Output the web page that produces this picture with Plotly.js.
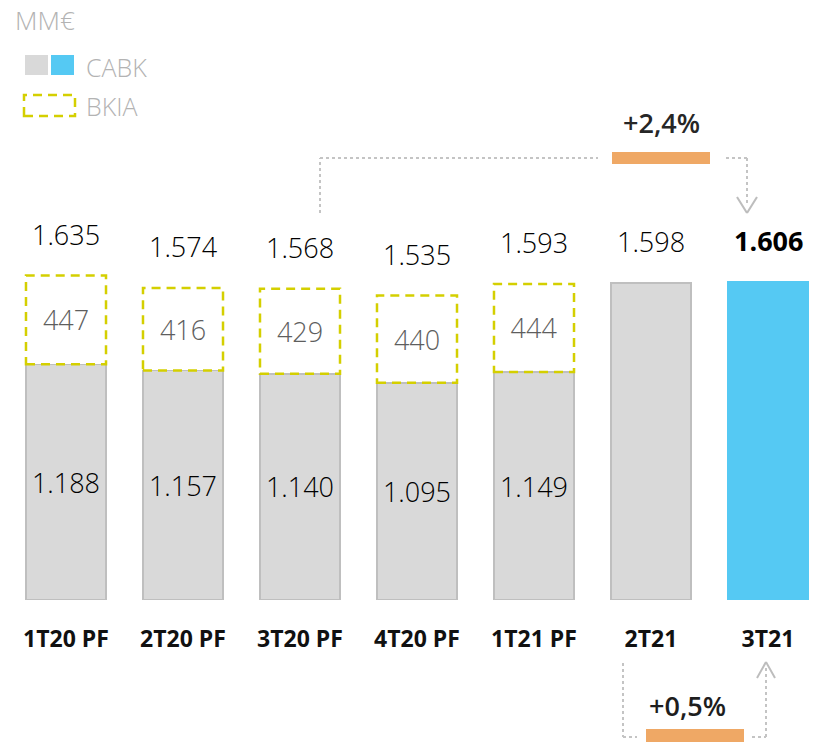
<!DOCTYPE html>
<html>
<head>
<meta charset="utf-8">
<script src="https://cdn.plot.ly/plotly-3.0.1.min.js"></script>
<style>html,body{margin:0;padding:0;background:#fff;}#chart{width:821px;height:751px;}</style>
</head>
<body>
<div id="chart"></div>
<script>
const categories = ['1T20 PF', '2T20 PF', '3T20 PF', '4T20 PF', '1T21 PF', '2T21', '3T21'];
const cabk = [1188, 1157, 1140, 1095, 1149, 1598, 1606];
const bkia = [447, 416, 429, 440, 444, null, null];
const totals = [1635, 1574, 1568, 1535, 1593, 1598, 1606];
const cabkLabelShown = [true, true, true, true, true, false, false];
const changeQoQ = '+0,5%';
const changeYoY = '+2,4%';
const unitLabel = 'MM€';

const W = 821, H = 751, BASE = 600;
const FONT = '"Open Sans", "Noto Sans", sans-serif';
const GRAY = '#d9d9d9', GRAY_LINE = '#bfbfbf', BLUE = '#55c9f3', DASH = '#d4cf00', ORANGE = '#efa865', DOT = '#c4c4c4';
const BW = 0.684;

function fmt(v) { return String(v).replace(/\B(?=(\d{3})+(?!\d))/g, '.'); }
const px = x => x / W;
const py = y => (BASE - y) / BASE;

const idx = categories.map((_, i) => i);
const cabkColors = categories.map((_, i) => i === categories.length - 1 ? BLUE : GRAY);
const cabkLineColors = categories.map((_, i) => i === categories.length - 1 ? BLUE : GRAY_LINE);

const traces = [
  {
    type: 'bar', name: 'CABK', x: idx, y: cabk, width: BW,
    marker: { color: cabkColors, line: { color: cabkLineColors, width: 1.5 } },
    text: cabk.map((v, i) => cabkLabelShown[i] ? fmt(v) : ''),
    textposition: 'inside', insidetextanchor: 'middle', textangle: 0, constraintext: 'none',
    insidetextfont: { family: FONT, size: 27, color: '#000000', weight: 300 },
    hoverinfo: 'skip', showlegend: false
  },
  {
    type: 'bar', name: 'BKIA', x: idx, y: bkia, width: BW,
    marker: { color: 'rgba(255,255,255,0)', line: { width: 0 } },
    text: bkia.map(v => v == null ? '' : fmt(v)),
    textposition: 'inside', insidetextanchor: 'middle', textangle: 0, constraintext: 'none',
    insidetextfont: { family: FONT, size: 27, color: '#5e5e5e', weight: 300 },
    hoverinfo: 'skip', showlegend: false
  }
];

const shapes = [];
bkia.forEach((v, i) => {
  if (v == null) return;
  shapes.push({ type: 'rect', xref: 'x', yref: 'y', x0: i - BW / 2, x1: i + BW / 2, y0: cabk[i], y1: cabk[i] + v,
    line: { color: DASH, width: 2.5, dash: '9px,6px' }, fillcolor: 'rgba(0,0,0,0)', layer: 'above' });
});

// legend swatches
shapes.push({ type: 'rect', xref: 'paper', yref: 'paper', x0: px(25), x1: px(48), y0: py(75), y1: py(55), fillcolor: GRAY, line: { width: 0 } });
shapes.push({ type: 'rect', xref: 'paper', yref: 'paper', x0: px(51), x1: px(74), y0: py(75), y1: py(55), fillcolor: BLUE, line: { width: 0 } });
shapes.push({ type: 'rect', xref: 'paper', yref: 'paper', x0: px(24), x1: px(75), y0: py(116), y1: py(95), fillcolor: 'rgba(0,0,0,0)', line: { color: DASH, width: 2.5, dash: '9px,6px' } });

function seg(x0, y0, x1, y1, dash, color) {
  shapes.push({ type: 'line', xref: 'paper', yref: 'paper', x0: px(x0), y0: py(y0), x1: px(x1), y1: py(y1),
    line: { color: color || DOT, width: 2, dash: dash || 'dot' } });
}
// top connector (year-on-year)
seg(320, 213, 320, 158);
seg(320, 158, 598, 158);
seg(726, 158, 747, 158);
seg(747, 158, 747, 205);
seg(737, 197, 747, 213, 'solid', '#bdbdbd');
seg(747, 213, 757, 197, 'solid', '#bdbdbd');
shapes.push({ type: 'rect', xref: 'paper', yref: 'paper', x0: px(612), x1: px(710), y0: py(164), y1: py(152), fillcolor: ORANGE, line: { width: 0 } });
// bottom connector (quarter-on-quarter)
seg(623, 663, 623, 737);
seg(623, 737, 637, 737);
seg(752, 737, 766, 737);
seg(766, 737, 766, 668);
seg(757, 678, 766, 662, 'solid', '#bdbdbd');
seg(766, 662, 775, 678, 'solid', '#bdbdbd');
shapes.push({ type: 'rect', xref: 'paper', yref: 'paper', x0: px(646), x1: px(744), y0: py(742), y1: py(729), fillcolor: ORANGE, line: { width: 0 } });

const annotations = totals.map((t, i) => ({
  xref: 'x', yref: 'y', x: i, y: t, yshift: 41, showarrow: false, yanchor: 'middle',
  text: i === totals.length - 1 ? '<b>' + fmt(t) + '</b>' : fmt(t),
  font: { family: FONT, size: 27, color: '#000000', weight: i === totals.length - 1 ? 700 : 300 }
}));
annotations.push(
  { xref: 'paper', yref: 'paper', x: px(13), y: py(20), xanchor: 'left', yanchor: 'middle', showarrow: false, text: unitLabel, font: { family: FONT, size: 26, color: '#b3b3b3', weight: 300 } },
  { xref: 'paper', yref: 'paper', x: px(84), y: py(67), xanchor: 'left', yanchor: 'middle', showarrow: false, text: 'CABK', font: { family: FONT, size: 25, color: '#b3b3b3', weight: 300 } },
  { xref: 'paper', yref: 'paper', x: px(84), y: py(106), xanchor: 'left', yanchor: 'middle', showarrow: false, text: 'BKIA', font: { family: FONT, size: 25, color: '#b3b3b3', weight: 300 } },
  { xref: 'paper', yref: 'paper', x: px(661), y: py(123), xanchor: 'center', yanchor: 'middle', showarrow: false, text: changeYoY, font: { family: FONT, size: 27, color: '#262626', weight: 600 } },
  { xref: 'paper', yref: 'paper', x: px(687), y: py(705), xanchor: 'center', yanchor: 'middle', showarrow: false, text: changeQoQ, font: { family: FONT, size: 27, color: '#1e1e1e', weight: 600 } }
);

const layout = {
  width: W, height: H,
  margin: { l: 0, r: 0, t: 0, b: H - BASE, pad: 0 },
  paper_bgcolor: '#fff', plot_bgcolor: '#fff',
  barmode: 'stack', showlegend: false,
  xaxis: { range: [-66 / 117, -66 / 117 + W / 117], tickmode: 'array', tickvals: idx, ticktext: categories,
    showgrid: false, zeroline: false, showline: false, ticks: '', ticklabelstandoff: 23,
    tickfont: { family: FONT, size: 23, color: '#111', weight: 700 }, fixedrange: true },
  yaxis: { range: [0, BASE / 0.1984], visible: false, showgrid: false, zeroline: false, fixedrange: true },
  shapes: shapes, annotations: annotations
};

Plotly.newPlot('chart', traces, layout, { displayModeBar: false, staticPlot: true });
</script>
</body>
</html>
